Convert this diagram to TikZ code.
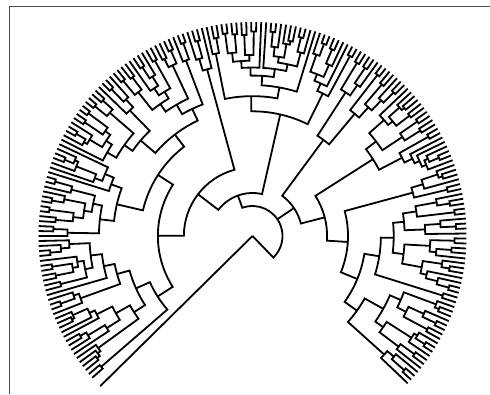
\documentclass[tikz,border=0pt]{standalone}
\usepackage{tikz}
\newcount\rs
\newcount\rsTmp
\newcount\leafidx
\global\rs=12345
\def\nextrnd{%
  \global\multiply\rs by 171
  \rsTmp=\rs \divide\rsTmp by 30269
  \multiply\rsTmp by 30269
  \global\advance\rs by -\rsTmp
  \ifnum\rs=0 \global\rs=1 \fi
  \edef\rndint{\the\numexpr\rs*9999/30269\relax}%
  \pgfmathsetmacro\rnd{\rndint/10000}%
}
\def\Rout{214}
\def\Hmax{214}
\def\astart{221.5}
\def\astep{1.3384}
\def\childrad#1{%
  \ifnum#1=1\relax \def\crad{\Rout}%
  \else
    \nextrnd
    \pgfmathsetmacro\crad{\Rout - min(0.85*(\Rout-\cR), \Hmax*(ln(#1)/ln(200))^1.4*(0.7+0.6*\rnd))}%
  \fi}
\def\clade#1#2{%
  \begingroup
  \ifnum#1=1\relax
    \pgfmathsetmacro\cA{\astart - \the\leafidx*\astep}%
    \global\advance\leafidx by 1
    \xdef\retA{\cA}%
  \else
    \edef\cN{#1}\edef\cR{#2}%
    \nextrnd
    \pgfmathtruncatemacro\kA{1+floor(\rnd*(\cN-1))}%
    \pgfmathtruncatemacro\kB{\cN-\kA}%
    \childrad{\kA}\let\rone\crad
    \childrad{\kB}\let\rtwo\crad
    \clade{\kA}{\rone}\let\aone\retA
    \clade{\kB}{\rtwo}\let\atwo\retA
    \draw (\aone:\rone pt) -- (\aone:\cR pt) arc[start angle=\aone, end angle=\atwo, radius=\cR pt] -- (\atwo:\rtwo pt);
    \pgfmathsetmacro\cA{(\aone+\atwo)/2}%
    \xdef\retA{\cA}%
  \fi
  \endgroup
}
\begin{document}
\begin{tikzpicture}[line width=1.8pt, line join=miter]
\useasboundingbox (0pt,0pt) rectangle (490pt,394pt);
\fill[white] (0pt,0pt) rectangle (490pt,394pt);
\draw[black!70, line width=0.8pt] (9.5pt,0pt) -- (9.5pt,387.3pt) -- (490pt,387.3pt);
\begin{scope}[shift={(252.5pt,158pt)}]
 \draw (0pt,0pt) -- (224.6:214pt);
 \global\leafidx=0
 \def\cR{30}
 \clade{121}{43}\let\aB\retA
 \clade{78}{50}\let\aC\retA
 \draw (\aB:43pt) -- (\aB:30pt) arc[start angle=\aB, end angle=-46, radius=30pt] -- (0pt,0pt);
 \draw (\aC:30pt) -- (\aC:50pt);
\end{scope}
\end{tikzpicture}
\end{document}
